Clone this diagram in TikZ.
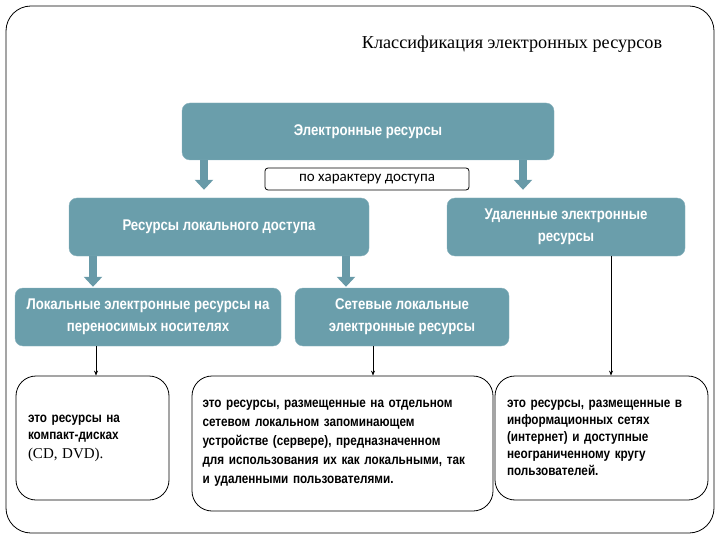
\documentclass[tikz,border=0pt]{standalone}
\usepackage{fontspec}
\setmainfont{Liberation Serif}
\newfontfamily\boxfont[FakeStretch=0.85]{Liberation Sans}
\newfontfamily\lblfont{Carlito}
\usetikzlibrary{arrows.meta}
\definecolor{boxc}{RGB}{106,158,171}
\definecolor{arrc}{RGB}{104,154,168}
\tikzset{
  catbox/.style={fill=boxc, draw=boxc!80!white, rounded corners=8pt, text=white, align=center,
    font=\boxfont\bfseries\fontsize{15.5}{22}\selectfont, inner sep=0pt},
  descbox/.style={draw=black, line width=0.8pt, rounded corners=20pt, align=left, inner sep=0pt,
    font=\boxfont\bfseries\fontsize{13.8}{17}\selectfont},
  lblbox/.style={draw=black, line width=0.8pt, rounded corners=3pt, font=\lblfont\fontsize{15}{16}\selectfont, inner sep=0pt},
  blockarrow/.style={draw=arrc, line width=8pt, -{Triangle[length=10pt,width=18pt]}},
  thinarrow/.style={draw=black, line width=0.7pt, -{Stealth[length=5pt,width=4pt]}}
}
\begin{document}
\begin{tikzpicture}[x=1pt,y=-1pt]
\useasboundingbox (0,0) rectangle (720,540);
\node[draw=black, line width=0.8pt, rounded corners=25pt, minimum width=708pt, minimum height=527pt, inner sep=0pt] (frame) at (360,269.5) {};
\node[font=\fontsize{18.2}{20}\selectfont] (title) at (512,44) {Классификация электронных ресурсов};

\node[catbox, minimum width=372pt, minimum height=57pt] (top) at (368,131.5) {Электронные ресурсы};
\node[lblbox, minimum width=204pt, minimum height=22pt] (acc) at (367,179) {по характеру доступа};
\node[catbox, minimum width=300pt, minimum height=58pt] (loc) at (219,227) {Ресурсы локального доступа};
\node[catbox, minimum width=238pt, minimum height=58pt] (rem) at (566,227) {Удаленные электронные\\ресурсы};
\node[catbox, minimum width=266pt, minimum height=58pt] (port) at (148,317) {Локальные электронные ресурсы на\\переносимых носителях};
\node[catbox, minimum width=214pt, minimum height=58pt] (net) at (402,317) {Сетевые локальные\\электронные ресурсы};

\node[descbox, minimum width=153pt, minimum height=124pt, text width=129pt] (d1) at (92.5,438) {это ресурсы на\\компакт-дисках\\[2pt]{\rmfamily\mdseries\fontsize{15}{18}\selectfont (CD, DVD).}};
\node[descbox, minimum width=301pt, minimum height=135pt, text width=280pt, font=\boxfont\bfseries\fontsize{13.8}{19}\selectfont] (d2) at (342.5,443.5) {это ресурсы, размещенные на отдельном\\сетевом локальном запоминающем\\устройстве (сервере), предназначенном\\для использования их как локальными, так\\и удаленными пользователями.};
\node[descbox, minimum width=213pt, minimum height=124pt, text width=189pt] (d3) at (601.5,438) {это ресурсы, размещенные в\\информационных сетях\\(интернет) и доступные\\неограниченному кругу\\пользователей.};

\coordinate (xa) at (204,0);
\coordinate (xb) at (523,0);
\coordinate (xc) at (93,0);
\coordinate (xd) at (346,0);
\coordinate (xe) at (96,0);
\coordinate (xf) at (373,0);
\coordinate (xg) at (611,0);
\draw[blockarrow, shorten >=8pt] (top.south -| xa) -- (loc.north -| xa);
\draw[blockarrow, shorten >=8pt] (top.south -| xb) -- (rem.north -| xb);
\draw[blockarrow, shorten >=1pt] (loc.south -| xc) -- (port.north -| xc);
\draw[blockarrow, shorten >=1pt] (loc.south -| xd) -- (net.north -| xd);
\draw[thinarrow] (port.south -| xe) -- (d1.north -| xe);
\draw[thinarrow] (net.south -| xf) -- (d2.north -| xf);
\draw[thinarrow] (rem.south -| xg) -- (d3.north -| xg);
\end{tikzpicture}
\end{document}
